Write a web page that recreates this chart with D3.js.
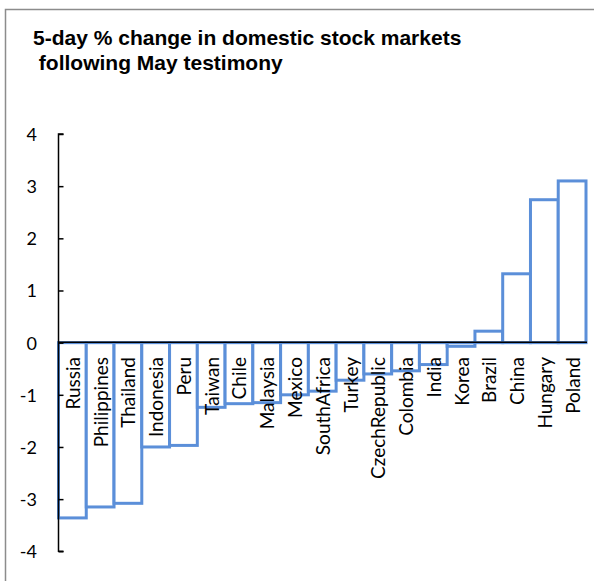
<!DOCTYPE html>
<html>
<head>
<meta charset="utf-8">
<script src="https://cdn.jsdelivr.net/npm/d3@7"></script>
<style>
  html, body { margin: 0; padding: 0; background: #fff; }
  svg { display: block; }
</style>
</head>
<body>
<script>
const categories = ["Russia","Philippines","Thailand","Indonesia","Peru","Taiwan","Chile","Malaysia","Mexico","SouthAfrica","Turkey","CzechRepublic","Colombia","India","Korea","Brazil","China","Hungary","Poland"];
const values = [-3.36,-3.15,-3.08,-2.0,-1.97,-1.24,-1.17,-1.15,-1.0,-0.93,-0.72,-0.6,-0.54,-0.42,-0.07,0.22,1.32,2.74,3.1];
const yTicks = [-4,-3,-2,-1,0,1,2,3,4];
const titleLines = ["5-day % change in domestic stock markets", " following May testimony"];

const W = 594, H = 581;
const svg = d3.select("body").append("svg").attr("width", W).attr("height", H);

// outer chart border (extends beyond the visible area)
svg.append("rect")
  .attr("x", 5.5).attr("y", 9.5).attr("width", 620).attr("height", 620)
  .attr("fill", "#fff").attr("stroke", "#8c8c8c").attr("stroke-width", 1.5);

const y = d3.scaleLinear().domain([-4, 4]).range([551.3, 134]);
const x = d3.scaleBand().domain(categories).range([58.5, 586]).padding(0);

// title
const title = svg.append("text")
  .attr("font-family", "'Liberation Sans', Arial, sans-serif")
  .attr("font-weight", "bold").attr("font-size", 21).attr("fill", "#000")
  .attr("xml:space", "preserve");
titleLines.forEach((t, i) => {
  title.append("tspan").attr("x", 33).attr("y", 45 + i * 25).text(t);
});

// bars
svg.append("g").selectAll("rect").data(categories).join("rect")
  .attr("x", d => x(d))
  .attr("width", x.bandwidth())
  .attr("y", (d, i) => y(Math.max(0, values[i])))
  .attr("height", (d, i) => Math.abs(y(values[i]) - y(0)))
  .attr("fill", "#fff")
  .attr("stroke", "#5b8fd9")
  .attr("stroke-width", 3);

// zero line
svg.append("line")
  .attr("x1", x.range()[0]).attr("x2", x.range()[1] + 1)
  .attr("y1", y(0) - 0.5).attr("y2", y(0) - 0.5)
  .attr("stroke", "#000").attr("stroke-width", 1.5);

// y axis (ticks inside)
const yAxis = d3.axisRight(y).tickValues(yTicks).tickSize(5).tickFormat("");
const ga = svg.append("g").attr("transform", `translate(${x.range()[0]},0)`).call(yAxis);
ga.select(".domain").attr("stroke", "#000").attr("stroke-width", 1.5).attr("d", `M5,${y(4)}H0V${y(-4)}H5`);
ga.selectAll(".tick line").attr("stroke", "#000").attr("stroke-width", 1.5);

svg.append("g").selectAll("text").data(yTicks).join("text")
  .attr("x", 37).attr("y", d => y(d))
  .attr("text-anchor", "end").attr("dominant-baseline", "central")
  .attr("font-family", "Lato, 'Open Sans', sans-serif").attr("font-size", 18)
  .attr("fill", "#000")
  .text(d => d);

// category labels, rotated
svg.append("g").selectAll("text").data(categories).join("text")
  .attr("transform", d => `translate(${x(d) + x.bandwidth() / 2},357) rotate(-90)`)
  .attr("text-anchor", "end").attr("dominant-baseline", "central")
  .attr("font-family", "Lato, 'Open Sans', sans-serif").attr("font-size", 19)
  .attr("fill", "#000")
  .text(d => d);
</script>
</body>
</html>
